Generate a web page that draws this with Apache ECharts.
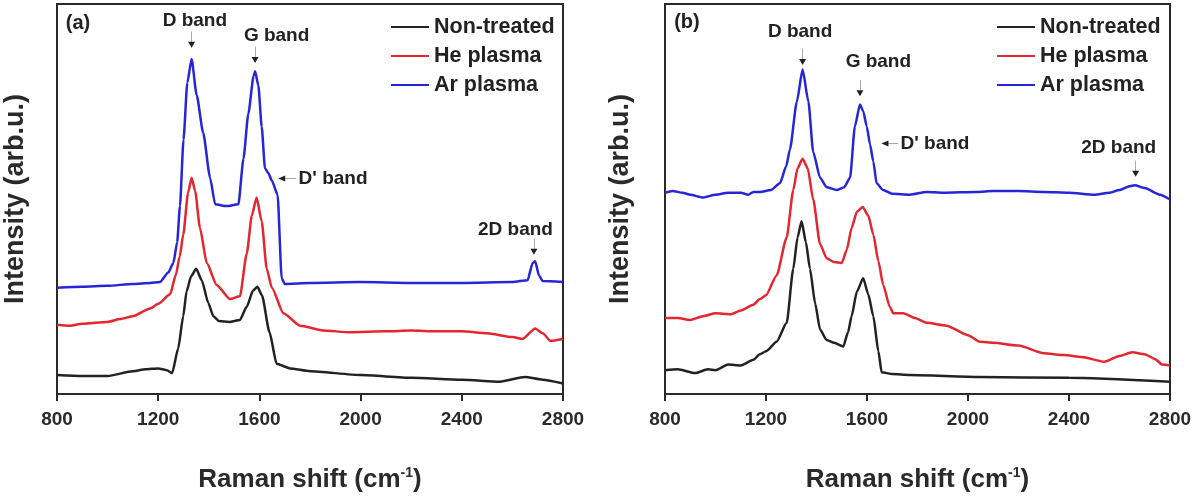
<!DOCTYPE html>
<html>
<head>
<meta charset="utf-8">
<script src="https://cdn.jsdelivr.net/npm/echarts@6/dist/echarts.min.js"></script>
<style>
html,body{margin:0;padding:0;background:#fff;}
#c{width:1196px;height:498px;}
</style>
</head>
<body>
<div id="c"></div>
<script>
// ---------- data (Raman shift cm-1, intensity arb.u.) ----------
const seriesNames = ['Non-treated', 'He plasma', 'Ar plasma'];
const xTicks = [800, 1200, 1600, 2000, 2400, 2800];

// panel (a)
const aNonTreated = [[800,20],[900,19],[1000,19],[1100,24],[1150,26],[1200,27],[1235,25],[1255,22],[1279,48],[1299,82],[1312,108],[1330,124],[1350,132],[1372,120],[1398,96],[1418,82],[1440,77],[1480,76],[1523,78],[1550,92],[1575,109],[1592,113],[1610,104],[1640,65],[1668,32],[1721,27],[1800,24],[2000,20],[2200,17],[2400,15],[2550,13],[2650,18],[2720,15],[2800,11]];
const aHePlasma = [[800,73],[850,72],[900,74],[1000,76],[1050,79],[1100,82],[1168,90],[1200,95],[1247,105],[1270,126],[1285,145],[1299,168],[1318,212],[1332,228],[1346,214],[1365,175],[1392,138],[1431,115],[1484,100],[1523,103],[1550,148],[1570,188],[1589,207],[1609,182],[1629,132],[1649,112],[1695,85],[1761,72],[1850,67],[1958,65],[2100,66],[2200,67],[2300,66],[2400,66],[2500,64],[2600,60],[2640,58],[2690,69],[2720,64],[2750,56],[2800,58]];
const aArPlasma = [[800,112],[900,113],[1000,114],[1100,116],[1168,117],[1207,118],[1240,128],[1260,138],[1275,160],[1286,198],[1300,268],[1315,328],[1332,353],[1352,315],[1378,275],[1405,228],[1425,200],[1470,198],[1517,200],[1537,248],[1556,295],[1577,335],[1583,340],[1596,325],[1609,282],[1622,238],[1635,233],[1649,225],[1672,210],[1688,122],[1700,116],[1800,117],[2000,118],[2200,117],[2400,117],[2600,118],[2660,120],[2680,138],[2690,140],[2705,125],[2720,119],[2800,118]];

// panel (b)
const bNonTreated = [[800,25],[850,26],[920,22],[970,26],[1000,25],[1050,31],[1100,30],[1150,36],[1176,42],[1200,45],[1242,55],[1282,75],[1308,132],[1325,165],[1341,182],[1358,160],[1374,132],[1395,95],[1414,68],[1440,57],[1470,54],[1506,50],[1525,65],[1539,82],[1560,108],[1585,122],[1605,105],[1625,82],[1645,45],[1658,23],[1700,21],[1770,20],[2047,18],[2400,17],[2800,13]];
const bHePlasma = [[800,80],[850,80],[900,78],[950,82],[1000,85],[1060,84],[1100,88],[1150,94],[1176,100],[1200,104],[1242,125],[1282,165],[1308,215],[1325,238],[1345,248],[1365,238],[1387,205],[1414,158],[1440,143],[1470,139],[1500,138],[1520,152],[1539,175],[1560,192],[1583,197],[1605,188],[1625,168],[1645,140],[1664,115],[1690,92],[1704,85],[1744,85],[1790,80],[1836,75],[1915,72],[2000,62],[2047,55],[2100,54],[2200,51],[2300,43],[2380,41],[2450,39],[2540,34],[2600,40],[2650,44],[2700,42],[2740,37],[2770,31],[2800,30]];
const bArPlasma = [[800,212],[830,214],[870,212],[900,210],[950,207],[1000,210],[1050,212],[1100,212],[1130,210],[1150,213],[1176,213],[1220,215],[1255,222],[1280,240],[1295,258],[1322,308],[1345,342],[1368,308],[1387,255],[1414,228],[1440,218],[1480,215],[1510,218],[1533,228],[1552,282],[1572,305],[1585,298],[1599,282],[1612,263],[1625,245],[1638,222],[1664,215],[1700,211],[1770,210],[1836,213],[1902,212],[2034,213],[2100,214],[2200,214],[2300,213],[2400,212],[2500,210],[2560,212],[2600,215],[2640,219],[2660,220],[2700,217],[2760,210],[2800,205]];

// annotation anchors (data coordinates)
const aBandLabels = [['D band',1345,393],['G band',1668,377],['2D band',2612,173]];
const aBandArrows = [[1332,368],[1583,352],[2685,150]];
const aDprime = [1688,227,1753];
const bBandLabels = [['D band',1335,382],['G band',1645,350],['2D band',2597,260]];
const bBandArrows = [[1345,350],[1572,317],[2664,232]];
const bDprime = [1671,264,1731];
const panelTags = [['(a)',883,390],['(b)',887,391]];

// ---------- chart ----------
const FONT = '"Liberation Sans", Arial, sans-serif';
const colors = ['#222222', '#e3262f', '#2626d6'];
const chart = echarts.init(document.getElementById('c'), null, {renderer:'canvas'});

function grid(left, right){
  return {left:left, right:right, top:4, bottom:83, show:true, borderColor:'#2a2a2a', borderWidth:2, containLabel:false};
}
function xAx(i){
  return {
    type:'value', gridIndex:i, min:xTicks[0], max:xTicks[xTicks.length-1], interval:400,
    axisLine:{show:true, lineStyle:{color:'#2a2a2a', width:2}},
    axisTick:{show:true, inside:false, length:7, lineStyle:{color:'#2a2a2a', width:2}},
    axisLabel:{color:'#2a2a2a', fontSize:19, fontWeight:'bold', fontFamily:FONT, margin:16,
      formatter:function(v){ return String(v); }},
    splitLine:{show:false},
    name:'{t|Raman shift (cm}{s|-1}{t|)}', nameLocation:'middle', nameGap:72,
    nameTextStyle:{rich:{
      t:{fontSize:26, fontWeight:'bold', fontFamily:FONT, color:'#2a2a2a'},
      s:{fontSize:14, fontWeight:'bold', fontFamily:FONT, color:'#2a2a2a', verticalAlign:'top', padding:[0,0,14,0]}
    }}
  };
}
function yAx(i, gap){
  return {
    type:'value', gridIndex:i, min:0, max:411,
    axisLine:{show:true, lineStyle:{color:'#2a2a2a', width:2}},
    axisTick:{show:false}, axisLabel:{show:false}, splitLine:{show:false},
    name:'Intensity (arb.u.)', nameLocation:'middle', nameGap:gap, nameRotate:90,
    nameTextStyle:{fontSize:27, fontWeight:'bold', fontFamily:FONT, color:'#2a2a2a'}
  };
}
function annotations(labels, arrows, dprime, tag){
  const d = [];
  labels.forEach(l => d.push({coord:[l[1], l[2]], symbol:'circle', symbolSize:1,
    itemStyle:{color:'rgba(0,0,0,0)'},
    label:{show:true, position:'inside', formatter:l[0], color:'#222', fontSize:19, fontWeight:'bold', fontFamily:FONT}}));
  arrows.forEach(a => d.push({coord:[a[0], a[1]], symbol:'triangle', symbolSize:[7,6], symbolRotate:180,
    itemStyle:{color:'#222'}, label:{show:false}}));
  d.push({coord:[dprime[0], dprime[1]], symbol:'triangle', symbolSize:[6,7], symbolRotate:90,
    itemStyle:{color:'#222'}, label:{show:false}});
  d.push({coord:[dprime[2], dprime[1]], symbol:'circle', symbolSize:1, itemStyle:{color:'rgba(0,0,0,0)'},
    label:{show:true, position:'right', distance:0, formatter:"D' band", color:'#222', fontSize:19, fontWeight:'bold', fontFamily:FONT}});
  d.push({coord:[tag[1], tag[2]], symbol:'circle', symbolSize:1, itemStyle:{color:'rgba(0,0,0,0)'},
    label:{show:true, position:'inside', formatter:tag[0], color:'#222', fontSize:20, fontWeight:'bold', fontFamily:FONT}});
  return {silent:true, animation:false, data:d};
}
function leaders(arrows, dprime){
  const d = arrows.map(a => [{coord:[a[0], a[1] + 3]}, {coord:[a[0], a[1] + 14]}]);
  d.push([{coord:[dprime[0] + 8, dprime[1]]}, {coord:[dprime[2] - 8, dprime[1]]}]);
  return {silent:true, animation:false, symbol:'none', label:{show:false},
    lineStyle:{color:'#aaaaaa', width:1, type:'solid'}, data:d};
}
function line(name, data, idx, color, mp, ml){
  const s = {name:name, type:'line', xAxisIndex:idx, yAxisIndex:idx, data:data,
    symbol:'none', showSymbol:false, smooth:0.2, smoothMonotone:'x',
    lineStyle:{color:color, width:2.5}, itemStyle:{color:color}, z:3, animation:false};
  if (mp) s.markPoint = mp;
  if (ml) s.markLine = ml;
  return s;
}

const legendCommon = {orient:'vertical', itemWidth:38, itemHeight:10, itemGap:7, icon:'path://M0,4.4H38V6.6H0Z',
  textStyle:{fontSize:21.5, fontWeight:'bold', fontFamily:FONT, color:'#222'}, data:seriesNames, selectedMode:false};

chart.setOption({
  backgroundColor:'#fff',
  animation:false,
  grid:[grid(57, 633), grid(665, 26)],
  xAxis:[xAx(0), xAx(1)],
  yAxis:[yAx(0, 28), yAx(1, 31)],
  legend:[
    Object.assign({left:386, top:11}, legendCommon),
    Object.assign({left:992, top:11}, legendCommon)
  ],
  series:[
    line(seriesNames[0], aNonTreated, 0, colors[0]),
    line(seriesNames[1], aHePlasma, 0, colors[1]),
    line(seriesNames[2], aArPlasma, 0, colors[2], annotations(aBandLabels, aBandArrows, aDprime, panelTags[0]), leaders(aBandArrows, aDprime)),
    line(seriesNames[0], bNonTreated, 1, colors[0]),
    line(seriesNames[1], bHePlasma, 1, colors[1]),
    line(seriesNames[2], bArPlasma, 1, colors[2], annotations(bBandLabels, bBandArrows, bDprime, panelTags[1]), leaders(bBandArrows, bDprime))
  ]
});
</script>
</body>
</html>
